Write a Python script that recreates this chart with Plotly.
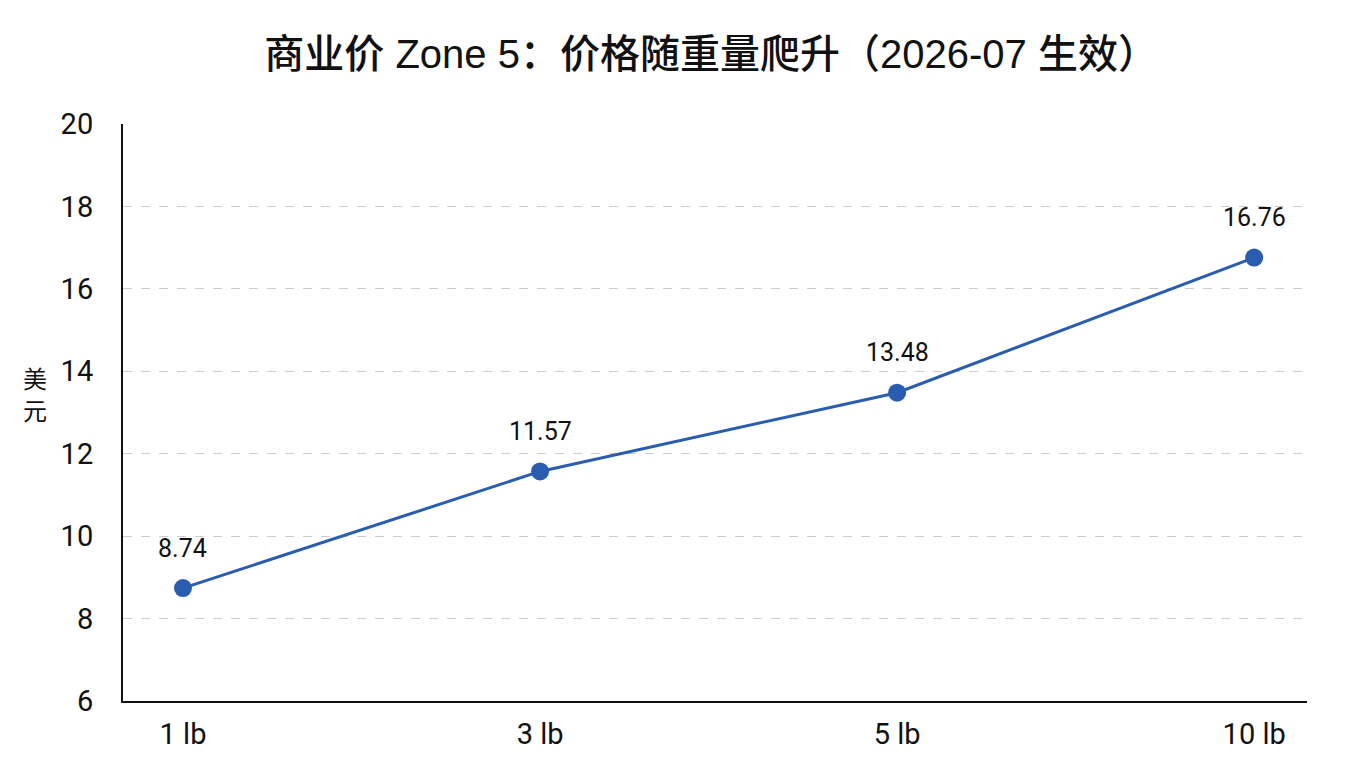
import plotly.graph_objects as go

categories = ["1 lb", "3 lb", "5 lb", "10 lb"]
prices = [8.74, 11.57, 13.48, 16.76]
price_labels = ["8.74", "11.57", "13.48", "16.76"]
y_ticks = [6, 8, 10, 12, 14, 16, 18, 20]
y_title_chars = ["美", "元"]

FONT = "Roboto, Noto Sans CJK SC, sans-serif"
TFONT = "Liberation Sans, Noto Sans CJK SC, sans-serif"
BLUE = "#2a5db0"

fig = go.Figure()
fig.add_trace(go.Scatter(
    x=categories, y=prices, mode="lines+markers",
    line=dict(color=BLUE, width=3),
    marker=dict(color=BLUE, size=18),
    cliponaxis=False, showlegend=False, hoverinfo="skip",
))

for c, v, t in zip(categories, prices, price_labels):
    fig.add_annotation(x=c, y=v, text=t, showarrow=False, yshift=40,
                       xanchor="center", yanchor="middle",
                       font=dict(size=25, family=FONT, color="#111111"))

for i, ch in enumerate(y_title_chars):
    fig.add_annotation(xref="paper", yref="paper", x=-0.0743, y=0.560 - 0.054 * i,
                       text=ch, showarrow=False, xanchor="center", yanchor="middle",
                       font=dict(size=24, family="Noto Sans CJK SC", color="#111111"))

fig.update_layout(
    width=1360, height=768,
    margin=dict(l=115, r=61, t=116, b=75, autoexpand=False),
    paper_bgcolor="white", plot_bgcolor="white",
    font=dict(family=FONT, color="#111111"),
    title=dict(text="商业价 Zone 5：价格随重量爬升（2026-07 生效）",
               x=0.517, xanchor="center", y=0.94, yanchor="middle",
               font=dict(size=40, color="#111111", family=TFONT, weight=500)),
    xaxis=dict(type="category", range=[-0.168, 3.148], automargin=False,
               showline=True, linecolor="#111111", linewidth=2,
               showgrid=False, ticks="", ticklabelstandoff=6,
               tickfont=dict(size=29, family=FONT, color="#111111")),
    yaxis=dict(range=[6, 20], tickvals=y_ticks, automargin=False,
               showline=True, linecolor="#111111", linewidth=2,
               showgrid=True, gridcolor="#cccccc", griddash="dash", gridwidth=1,
               zeroline=False, ticks="", ticklabelstandoff=22,
               tickfont=dict(size=29, family=FONT, color="#111111")),
)

fig.write_html("out.html")
